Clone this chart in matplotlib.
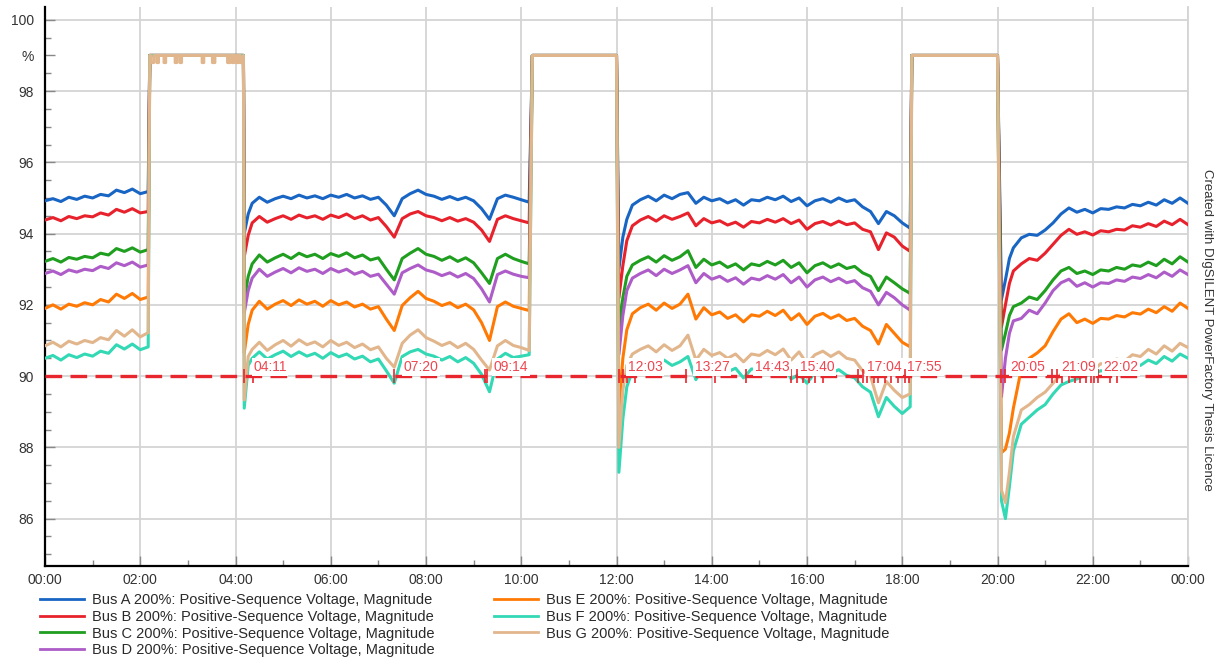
import matplotlib
matplotlib.use("Agg")
import matplotlib.pyplot as plt
from matplotlib.ticker import FixedLocator, MultipleLocator, FixedFormatter

plt.rcParams['font.family'] = ['Liberation Sans', 'DejaVu Sans']
plt.rcParams['lines.scale_dashes'] = False

# ---------------- data (time in minutes after 00:00, voltage in %) ----------------
T_SEG1 = [0, 10, 20, 30, 40, 50, 60, 70, 80, 90, 100, 110, 120, 130]
T_FLAT1 = [132, 250]
T_SEG2 = [251, 256, 261, 270, 280, 290, 300, 310, 320, 330, 340, 350, 360, 370, 380, 390,
          400, 410, 420, 430, 440, 450, 460, 470, 480, 490, 500, 510, 520, 530, 540, 550,
          560, 570, 580, 590, 600, 610]
T_FLAT2 = [614, 720]
T_SEG3 = [723, 728, 733, 740, 750, 760, 770, 780, 790, 800, 810, 820, 830, 840, 850, 860,
          870, 880, 890, 900, 910, 920, 930, 940, 950, 960, 970, 980, 990, 1000, 1010, 1020,
          1030, 1040, 1050, 1060, 1070, 1080, 1090]
T_FLAT3 = [1092, 1200]
T_SEG4 = [1205, 1210, 1215, 1220, 1230, 1240, 1250, 1260, 1270, 1280, 1290, 1300, 1310,
          1320, 1330, 1340, 1350, 1360, 1370, 1380, 1390, 1400, 1410, 1420, 1430, 1440]

FLAT_LEVEL = 99.0
NOTCH_LEVEL_G = 98.8
NOTCHES_G = [(133, 137), (141, 143), (150, 152), (164, 166), (170, 172), (198, 200),
             (211, 214), (230, 233), (236, 238), (241, 244), (246, 250)]

A_SEG1 = [94.92, 94.98, 94.90, 95.02, 94.96, 95.05, 95.00, 95.10, 95.06, 95.22, 95.15, 95.25, 95.12, 95.18]
B_SEG1 = [94.38, 94.45, 94.36, 94.48, 94.42, 94.50, 94.47, 94.58, 94.52, 94.68, 94.60, 94.70, 94.58, 94.62]
C_SEG1 = [93.22, 93.30, 93.20, 93.33, 93.28, 93.36, 93.32, 93.45, 93.40, 93.58, 93.50, 93.60, 93.48, 93.55]
D_SEG1 = [92.88, 92.95, 92.85, 92.98, 92.92, 93.00, 92.96, 93.08, 93.02, 93.18, 93.10, 93.20, 93.06, 93.12]
E_SEG1 = [91.90, 92.00, 91.88, 92.02, 91.96, 92.06, 92.00, 92.15, 92.08, 92.30, 92.18, 92.32, 92.15, 92.22]
F_SEG1 = [90.50, 90.58, 90.45, 90.60, 90.52, 90.62, 90.56, 90.70, 90.64, 90.88, 90.76, 90.90, 90.74, 90.82]
G_SEG1 = [90.85, 90.95, 90.82, 90.98, 90.90, 91.00, 90.94, 91.08, 91.02, 91.28, 91.12, 91.30, 91.10, 91.22]

A_SEG2 = [94.00, 94.55, 94.85, 95.02, 94.88, 94.98, 95.05, 94.98, 95.08, 95.00, 95.06, 94.98, 95.08, 95.02,
          95.10, 95.00, 95.06, 94.96, 95.02, 94.80, 94.50, 94.98, 95.12, 95.22, 95.10, 95.05, 94.96, 95.04,
          94.95, 95.02, 94.92, 94.70, 94.40, 94.98, 95.08, 95.02, 94.95, 94.88]
B_SEG2 = [93.35, 93.95, 94.30, 94.48, 94.32, 94.42, 94.50, 94.40, 94.52, 94.44, 94.50, 94.40, 94.52, 94.45,
          94.55, 94.42, 94.50, 94.38, 94.45, 94.20, 93.90, 94.42, 94.55, 94.62, 94.50, 94.45, 94.36, 94.45,
          94.35, 94.42, 94.32, 94.10, 93.78, 94.40, 94.50, 94.42, 94.36, 94.30]
C_SEG2 = [92.13, 92.80, 93.15, 93.40, 93.20, 93.32, 93.42, 93.30, 93.45, 93.35, 93.42, 93.30, 93.44, 93.36,
          93.46, 93.32, 93.40, 93.26, 93.32, 93.00, 92.70, 93.30, 93.45, 93.58, 93.42, 93.36, 93.25, 93.35,
          93.22, 93.32, 93.18, 92.90, 92.60, 93.30, 93.42, 93.30, 93.22, 93.15]
D_SEG2 = [91.77, 92.40, 92.75, 93.00, 92.80, 92.92, 93.02, 92.90, 93.04, 92.94, 93.00, 92.88, 93.02, 92.92,
          93.00, 92.86, 92.94, 92.80, 92.86, 92.58, 92.30, 92.90, 93.02, 93.12, 92.98, 92.92, 92.82, 92.90,
          92.78, 92.88, 92.74, 92.45, 92.08, 92.85, 92.95, 92.86, 92.80, 92.76]
E_SEG2 = [90.65, 91.45, 91.85, 92.10, 91.88, 92.02, 92.12, 91.98, 92.14, 92.02, 92.10, 91.96, 92.12, 92.00,
          92.08, 91.94, 92.02, 91.88, 91.95, 91.60, 91.28, 91.98, 92.20, 92.38, 92.18, 92.10, 91.98, 92.06,
          91.92, 92.02, 91.86, 91.50, 91.00, 91.95, 92.08, 91.96, 91.90, 91.84]
F_SEG2 = [89.10, 90.30, 90.50, 90.68, 90.48, 90.60, 90.70, 90.55, 90.68, 90.56, 90.64, 90.50, 90.66, 90.54,
          90.62, 90.48, 90.56, 90.40, 90.48, 90.15, 89.80, 90.55, 90.68, 90.75, 90.62, 90.56, 90.45, 90.55,
          90.40, 90.52, 90.36, 90.05, 89.56, 90.48, 90.64, 90.52, 90.56, 90.60]
G_SEG2 = [89.33, 90.55, 90.75, 90.95, 90.72, 90.88, 91.00, 90.84, 91.02, 90.88, 90.96, 90.82, 91.00, 90.86,
          90.95, 90.80, 90.90, 90.74, 90.82, 90.50, 90.25, 90.92, 91.15, 91.30, 91.08, 90.98, 90.86, 90.95,
          90.80, 90.92, 90.75, 90.45, 90.17, 90.85, 91.00, 90.86, 90.80, 90.72]

A_SEG3 = [93.00, 93.90, 94.40, 94.80, 94.95, 95.05, 94.92, 95.08, 94.98, 95.10, 95.15, 94.85, 95.02, 94.92,
          94.98, 94.86, 94.95, 94.80, 94.95, 94.92, 95.02, 94.95, 95.05, 94.90, 95.00, 94.78, 94.92, 94.98,
          94.88, 95.00, 94.90, 94.95, 94.75, 94.62, 94.28, 94.62, 94.50, 94.30, 94.15]
B_SEG3 = [92.20, 93.10, 93.80, 94.22, 94.38, 94.48, 94.35, 94.50, 94.40, 94.48, 94.58, 94.22, 94.42, 94.30,
          94.36, 94.24, 94.32, 94.18, 94.34, 94.30, 94.40, 94.32, 94.42, 94.28, 94.38, 94.12, 94.28, 94.34,
          94.24, 94.35, 94.25, 94.30, 94.12, 94.05, 93.55, 94.02, 93.90, 93.65, 93.50]
C_SEG3 = [91.30, 92.20, 92.80, 93.12, 93.25, 93.35, 93.20, 93.38, 93.25, 93.35, 93.52, 93.05, 93.28, 93.12,
          93.20, 93.05, 93.15, 92.98, 93.15, 93.10, 93.22, 93.12, 93.25, 93.05, 93.18, 92.90, 93.10, 93.18,
          93.05, 93.15, 93.02, 93.08, 92.90, 92.80, 92.40, 92.78, 92.62, 92.45, 92.32]
D_SEG3 = [90.60, 91.70, 92.40, 92.75, 92.88, 92.98, 92.82, 93.00, 92.88, 92.98, 93.10, 92.62, 92.88, 92.72,
          92.80, 92.66, 92.76, 92.58, 92.75, 92.70, 92.82, 92.72, 92.85, 92.62, 92.78, 92.50, 92.70, 92.78,
          92.65, 92.75, 92.62, 92.68, 92.48, 92.38, 92.00, 92.35, 92.20, 92.00, 91.85]
E_SEG3 = [89.00, 90.50, 91.30, 91.75, 91.92, 92.02, 91.85, 92.05, 91.90, 92.02, 92.30, 91.60, 91.92, 91.72,
          91.80, 91.62, 91.72, 91.52, 91.72, 91.68, 91.82, 91.70, 91.85, 91.58, 91.75, 91.45, 91.68, 91.76,
          91.62, 91.72, 91.56, 91.62, 91.40, 91.28, 90.90, 91.45, 91.20, 90.95, 90.82]
F_SEG3 = [87.30, 88.80, 89.70, 90.15, 90.32, 90.42, 90.28, 90.45, 90.30, 90.40, 90.55, 89.90, 90.32, 90.22,
          90.28, 90.12, 90.22, 89.95, 90.20, 90.18, 90.30, 90.20, 90.32, 89.92, 90.05, 89.80, 90.10, 90.20,
          90.08, 90.18, 90.02, 89.95, 89.70, 89.55, 88.86, 89.40, 89.15, 88.95, 89.14]
G_SEG3 = [88.00, 89.60, 90.30, 90.62, 90.75, 90.85, 90.68, 90.88, 90.72, 90.85, 91.15, 90.45, 90.75, 90.58,
          90.66, 90.50, 90.62, 90.40, 90.62, 90.58, 90.72, 90.60, 90.76, 90.45, 90.68, 90.35, 90.60, 90.70,
          90.55, 90.68, 90.50, 90.45, 90.15, 90.00, 89.25, 89.85, 89.60, 89.40, 89.50]

A_SEG4 = [92.15, 92.70, 93.30, 93.60, 93.88, 93.98, 93.95, 94.10, 94.30, 94.55, 94.72, 94.60, 94.68,
          94.58, 94.70, 94.68, 94.75, 94.72, 94.82, 94.78, 94.88, 94.80, 94.95, 94.85, 95.00, 94.85]
B_SEG4 = [91.38, 92.00, 92.60, 92.95, 93.15, 93.30, 93.25, 93.45, 93.70, 93.95, 94.12, 93.98, 94.05,
          93.96, 94.08, 94.05, 94.12, 94.10, 94.22, 94.18, 94.28, 94.20, 94.35, 94.25, 94.40, 94.25]
C_SEG4 = [90.73, 91.20, 91.70, 91.95, 92.05, 92.22, 92.15, 92.40, 92.70, 92.95, 93.05, 92.88, 92.95,
          92.85, 92.98, 92.95, 93.05, 93.00, 93.12, 93.08, 93.20, 93.10, 93.28, 93.15, 93.35, 93.20]
D_SEG4 = [89.42, 90.50, 91.20, 91.55, 91.62, 91.85, 91.75, 92.05, 92.40, 92.62, 92.72, 92.52, 92.62,
          92.50, 92.62, 92.60, 92.70, 92.66, 92.78, 92.74, 92.85, 92.76, 92.92, 92.80, 92.98, 92.85]
E_SEG4 = [87.85, 87.95, 88.40, 89.10, 90.20, 90.50, 90.65, 90.85, 91.25, 91.60, 91.75, 91.50, 91.60,
          91.48, 91.62, 91.60, 91.70, 91.66, 91.78, 91.74, 91.88, 91.78, 91.95, 91.82, 92.05, 91.90]
F_SEG4 = [86.50, 86.00, 86.90, 87.90, 88.65, 88.85, 89.05, 89.20, 89.50, 89.75, 89.85, 89.92, 90.02,
          90.05, 90.15, 90.12, 90.25, 90.20, 90.35, 90.30, 90.45, 90.35, 90.55, 90.42, 90.62, 90.50]
G_SEG4 = [86.80, 86.45, 87.30, 88.30, 89.05, 89.20, 89.40, 89.55, 89.80, 90.05, 90.30, 90.10, 90.25,
          90.15, 90.35, 90.30, 90.48, 90.42, 90.60, 90.55, 90.75, 90.62, 90.85, 90.70, 90.92, 90.80]

SERIES_NAMES = ["Bus A", "Bus B", "Bus C", "Bus D", "Bus E", "Bus F", "Bus G"]
SERIES_SUFFIX = " 200%: Positive-Sequence Voltage, Magnitude"
SERIES_COLORS = ["#1865c4", "#e8222c", "#1f9e1f", "#ad5cc8", "#ff7a05", "#33d8b4", "#e2b68c"]

THRESHOLD = 90.0
CROSS_LABELS = ["04:11", "07:20", "09:14", "12:03", "13:27", "14:43", "15:40",
                "17:04", "17:55", "20:05", "21:09", "22:02"]
CROSS_EXTRA_MIN = [262, 557, 728, 733, 743, 844, 948, 955, 962, 970, 980, 1030, 1036,
                   1044, 1050, 1058, 1066, 1084, 1089, 1210, 1275, 1281, 1290, 1298,
                   1304, 1312, 1318, 1327, 1342, 1351]

X_TICK_LABELS = ["00:00", "02:00", "04:00", "06:00", "08:00", "10:00", "12:00",
                 "14:00", "16:00", "18:00", "20:00", "22:00", "00:00"]
Y_TICKS = [86, 88, 90, 92, 94, 96, 98, 99, 100]
Y_TICK_LABELS = ["86", "88", "90", "92", "94", "96", "98", "%", "100"]

# ---------------- figure ----------------
fig = plt.figure(figsize=(12.16, 6.58), dpi=100)
ax = fig.add_axes([45 / 1216, 92 / 658, 1143 / 1216, 559 / 658])

segs = {
    "A": (A_SEG1, A_SEG2, A_SEG3, A_SEG4),
    "B": (B_SEG1, B_SEG2, B_SEG3, B_SEG4),
    "C": (C_SEG1, C_SEG2, C_SEG3, C_SEG4),
    "D": (D_SEG1, D_SEG2, D_SEG3, D_SEG4),
    "E": (E_SEG1, E_SEG2, E_SEG3, E_SEG4),
    "F": (F_SEG1, F_SEG2, F_SEG3, F_SEG4),
    "G": (G_SEG1, G_SEG2, G_SEG3, G_SEG4),
}

# tan (Bus G) flat period 1 with notches
g_flat1_t = [T_FLAT1[0]]
g_flat1_v = [FLAT_LEVEL]
for a, b in NOTCHES_G:
    g_flat1_t += [a, a, b, b]
    g_flat1_v += [FLAT_LEVEL, NOTCH_LEVEL_G, NOTCH_LEVEL_G, FLAT_LEVEL]

for key, name, col in zip("ABCDEFG", SERIES_NAMES, SERIES_COLORS):
    s1, s2, s3, s4 = segs[key]
    if key == "G":
        f1t, f1v = g_flat1_t, g_flat1_v
    else:
        f1t, f1v = T_FLAT1, [FLAT_LEVEL, FLAT_LEVEL]
    t = T_SEG1 + f1t + T_SEG2 + T_FLAT2 + T_SEG3 + T_FLAT3 + T_SEG4
    v = s1 + f1v + s2 + [FLAT_LEVEL, FLAT_LEVEL] + s3 + [FLAT_LEVEL, FLAT_LEVEL] + s4
    ax.plot(t, v, color=col, lw=2.2, label=name + SERIES_SUFFIX, zorder=3)

# threshold line
ax.axhline(THRESHOLD, color="#e8262e", lw=2.4, dashes=(12, 6), zorder=4)

cross_min = [int(s[:2]) * 60 + int(s[3:]) for s in CROSS_LABELS]
ax.plot(cross_min + CROSS_EXTRA_MIN, [THRESHOLD] * (len(cross_min) + len(CROSS_EXTRA_MIN)),
        ls="none", marker="|", ms=10, mew=1.2, color="#e8262e", zorder=5)
for lab, m in zip(CROSS_LABELS, cross_min):
    ax.annotate(lab, xy=(m, THRESHOLD), xytext=(6.5, 6.5), textcoords="offset points",
                ha="left", va="center", fontsize=10, color="#ee4650", zorder=6,
                bbox=dict(boxstyle="square,pad=0.12", fc="white", ec="none"))

# axes styling
ax.set_xlim(0, 1440)
ax.set_ylim(84.67, 100.36)
ax.xaxis.set_major_locator(FixedLocator(list(range(0, 1441, 120))))
ax.xaxis.set_major_formatter(FixedFormatter(X_TICK_LABELS))
ax.xaxis.set_minor_locator(MultipleLocator(60))
ax.yaxis.set_major_locator(FixedLocator(Y_TICKS))
ax.yaxis.set_major_formatter(FixedFormatter(Y_TICK_LABELS))
ax.yaxis.set_minor_locator(MultipleLocator(0.5))

ax.grid(True, which="major", color="#d4d4d4", lw=1.3, zorder=0)
for tk, val in zip(ax.yaxis.get_major_ticks(), Y_TICKS):
    if val == 99:
        tk.gridline.set_visible(False)
ax.set_axisbelow(True)

ax.tick_params(which="major", direction="in", length=7, width=1, color="#888888",
               labelsize=10, labelcolor="#333333")
ax.tick_params(axis="y", which="major", pad=8)
ax.tick_params(axis="x", which="major", pad=5)
ax.tick_params(which="minor", direction="in", length=4.5, width=1, color="#888888")

ax.spines["top"].set_visible(False)
ax.spines["right"].set_color("#d4d4d4")
ax.spines["right"].set_linewidth(1.3)
ax.spines["left"].set_linewidth(1.6)
ax.spines["bottom"].set_linewidth(1.6)
ax.spines["left"].set_color("black")
ax.spines["bottom"].set_color("black")

handles, labels = ax.get_legend_handles_labels()
leg = fig.legend(handles, labels, loc="upper left", bbox_to_anchor=(40 / 1216, 1 - 593 / 658),
                 ncol=2, frameon=False, fontsize=10.5, handlelength=3.0, handletextpad=0.55,
                 columnspacing=4.1, labelspacing=0.19, borderpad=0, borderaxespad=0)
for txt in leg.get_texts():
    txt.set_color("#2a2a2a")
for ln in leg.get_lines():
    ln.set_linewidth(2.0)

fig.text(1207 / 1216, 1 - 330 / 658, "Created with DIgSILENT PowerFactory Thesis Licence",
         rotation=270, ha="center", va="center", fontsize=9.5, color="#333333")

fig.savefig("out.png", dpi=100)
